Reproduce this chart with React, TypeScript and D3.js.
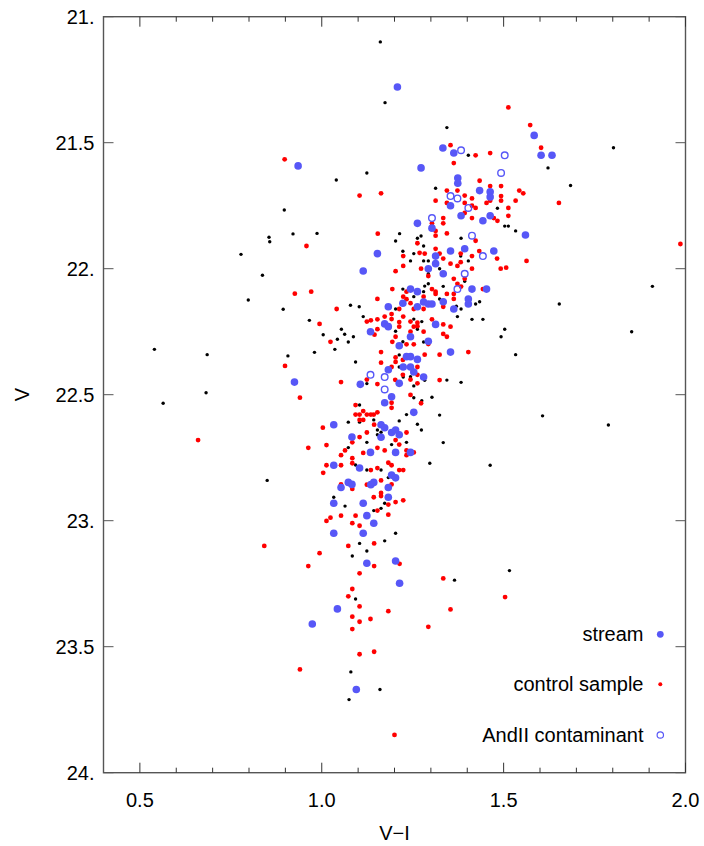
import * as d3 from "d3";

// colour-magnitude diagram: V against V-I
const xTickLabels = ["0.5", "1.0", "1.5", "2.0"];
const xTickValues = [0.5, 1.0, 1.5, 2.0];
const yTickLabels = ["21.", "21.5", "22.", "22.5", "23.", "23.5", "24."];
const yTickValues = [21, 21.5, 22, 22.5, 23, 23.5, 24];

const legendLabels = ["stream", "control sample", "AndII contaminant"];

// field stars (small black dots)
const field: [number, number][] = [
  [0.897, 21.767], [0.921, 21.862], [0.855, 21.875], [0.857, 21.893], [0.778, 21.943], [0.837, 22.026],
  [0.798, 22.124], [0.894, 22.161], [0.54, 22.32], [0.685, 22.341], [0.907, 22.346], [0.682, 22.492],
  [0.564, 22.534], [1.174, 21.341], [1.124, 21.62], [1.04, 21.648], [0.987, 21.86], [1.214, 21.861],
  [1.273, 21.87], [1.263, 21.879], [1.203, 21.89], [1.344, 21.44], [1.403, 21.55], [1.622, 21.6],
  [1.313, 21.681], [1.483, 21.76], [1.503, 21.831], [1.513, 21.831], [1.533, 21.85], [1.383, 21.879],
  [1.223, 21.931], [1.253, 21.94], [1.28, 21.91], [1.244, 21.969], [1.28, 21.969], [1.223, 22.081],
  [1.28, 22.091], [1.253, 22.111], [1.079, 22.145], [1.103, 22.151], [1.203, 22.16], [1.114, 22.19],
  [1.253, 22.2], [0.966, 22.205], [1.263, 22.24], [1.054, 22.24], [1.203, 22.248], [1.063, 22.26],
  [1.004, 22.262], [1.043, 22.28], [1.087, 22.27], [1.073, 22.291], [1.223, 22.29], [1.28, 22.291],
  [1.036, 22.32], [1.213, 22.342], [0.98, 22.332], [1.093, 22.37], [1.213, 22.39], [1.244, 22.429],
  [1.224, 22.43], [1.124, 22.456], [1.382, 21.95], [1.293, 21.969], [1.403, 21.969], [1.324, 22.0],
  [1.293, 22.02], [1.393, 22.05], [1.293, 22.06], [1.283, 22.069], [1.334, 22.07], [1.324, 22.12],
  [1.434, 22.131], [1.423, 22.14], [1.37, 22.149], [1.383, 22.16], [1.653, 22.14], [1.373, 22.19],
  [1.413, 22.201], [1.443, 22.201], [1.275, 22.21], [1.503, 22.24], [1.493, 22.27], [1.533, 22.341],
  [1.283, 22.443], [1.344, 22.442], [1.383, 22.451], [1.253, 22.512], [1.104, 22.541], [1.143, 22.6],
  [1.104, 22.609], [1.073, 22.609], [1.233, 22.579], [1.213, 22.604], [1.263, 22.617], [1.274, 22.64],
  [1.153, 22.64], [1.163, 22.649], [1.192, 22.698], [1.233, 22.689], [1.124, 22.689], [1.153, 22.659],
  [1.073, 22.71], [1.093, 22.779], [1.124, 22.799], [1.163, 22.799], [1.183, 22.829], [1.033, 22.907],
  [1.064, 22.942], [1.173, 22.931], [1.163, 22.951], [1.143, 22.96], [1.253, 22.465], [1.303, 22.51],
  [1.275, 22.524], [1.324, 22.581], [1.607, 22.584], [1.334, 22.69], [1.297, 22.772], [1.463, 22.78],
  [1.203, 23.05], [1.104, 23.09], [1.173, 23.08], [1.124, 23.12], [1.084, 23.14], [1.093, 23.311],
  [1.516, 23.198], [1.365, 23.236], [1.161, 21.1], [1.802, 21.52], [1.684, 21.67], [1.909, 22.07],
  [1.852, 22.25], [1.788, 22.62], [0.85, 22.84], [1.08, 23.6], [1.075, 23.71], [1.16, 23.67],
];

// control sample (red dots)
const control: [number, number][] = [
  [0.898, 21.566], [0.926, 22.099], [0.899, 22.386], [0.94, 22.512], [1.104, 21.71], [1.163, 21.701],
  [1.154, 21.861], [1.263, 21.899], [0.958, 21.91], [1.513, 21.36], [1.573, 21.43], [1.354, 21.51],
  [1.603, 21.52], [1.423, 21.55], [1.463, 21.541], [1.363, 21.581], [1.434, 21.651], [1.344, 21.69],
  [1.373, 21.69], [1.463, 21.672], [1.493, 21.672], [1.543, 21.69], [1.554, 21.701], [1.393, 21.71],
  [1.413, 21.721], [1.493, 21.712], [1.313, 21.73], [1.344, 21.739], [1.393, 21.739], [1.463, 21.73],
  [1.453, 21.739], [1.493, 21.73], [1.533, 21.73], [1.652, 21.739], [1.413, 21.75], [1.423, 21.759],
  [1.513, 21.759], [1.393, 21.779], [1.513, 21.79], [1.334, 21.799], [1.413, 21.799], [1.473, 21.799],
  [1.483, 21.81], [1.334, 21.82], [1.303, 21.82], [1.344, 21.86], [1.313, 21.85], [1.313, 21.869],
  [1.423, 21.889], [1.269, 21.937], [1.224, 21.95], [1.224, 21.989], [1.203, 22.01], [1.273, 22.0],
  [0.971, 22.091], [1.194, 22.081], [1.233, 22.091], [1.224, 22.111], [1.153, 22.12], [1.233, 22.121],
  [1.28, 22.111], [1.244, 22.137], [1.041, 22.16], [1.213, 22.16], [1.253, 22.16], [1.28, 22.16],
  [1.192, 22.18], [1.224, 22.19], [1.124, 22.21], [1.135, 22.205], [1.153, 22.201], [1.173, 22.19],
  [1.192, 22.2], [1.213, 22.212], [1.244, 22.21], [1.263, 22.214], [0.994, 22.219], [1.153, 22.24],
  [1.213, 22.23], [1.263, 22.228], [1.253, 22.23], [1.244, 22.25], [1.28, 22.25], [1.145, 22.262],
  [1.203, 22.27], [1.024, 22.29], [1.194, 22.29], [1.233, 22.3], [1.253, 22.3], [1.163, 22.331],
  [1.203, 22.352], [1.223, 22.362], [1.163, 22.373], [1.203, 22.37], [1.192, 22.39], [1.263, 22.39],
  [1.223, 22.421], [1.263, 22.421], [1.124, 22.44], [1.202, 22.441], [1.244, 22.44], [1.053, 22.45],
  [1.153, 22.458], [1.263, 22.455], [1.313, 21.921], [1.433, 21.93], [1.283, 21.94], [1.324, 21.94],
  [1.334, 21.96], [1.382, 21.94], [1.413, 21.95], [1.482, 21.96], [1.563, 21.969], [1.354, 21.98],
  [1.382, 21.974], [1.373, 21.989], [1.413, 22.0], [1.492, 22.0], [1.507, 21.996], [1.293, 22.029],
  [1.363, 22.04], [1.393, 22.04], [1.373, 22.06], [1.383, 22.071], [1.443, 22.081], [1.303, 22.081],
  [1.313, 22.091], [1.313, 22.1], [1.344, 22.1], [1.363, 22.1], [1.363, 22.12], [1.334, 22.151],
  [1.303, 22.201], [1.334, 22.221], [1.354, 22.23], [1.334, 22.259], [1.344, 22.27], [1.293, 22.299],
  [1.283, 22.341], [1.324, 22.341], [1.403, 22.331], [1.283, 22.429], [1.324, 22.442], [1.192, 22.532],
  [1.192, 22.552], [1.244, 22.501], [1.273, 22.534], [1.093, 22.541], [1.114, 22.565], [1.093, 22.579],
  [1.104, 22.579], [1.124, 22.579], [1.135, 22.579], [1.143, 22.579], [1.153, 22.57], [1.104, 22.6],
  [1.114, 22.6], [1.003, 22.631], [1.144, 22.619], [1.124, 22.65], [1.233, 22.65], [1.203, 22.68],
  [1.213, 22.698], [1.104, 22.668], [1.084, 22.689], [0.963, 22.711], [1.013, 22.7], [1.064, 22.721],
  [1.053, 22.74], [1.114, 22.731], [1.153, 22.711], [1.173, 22.721], [1.233, 22.721], [1.233, 22.74],
  [1.253, 22.729], [1.084, 22.752], [1.084, 22.772], [1.183, 22.77], [1.192, 22.78], [1.053, 22.78],
  [1.013, 22.78], [1.004, 22.81], [1.135, 22.799], [1.153, 22.791], [1.213, 22.799], [1.224, 22.799],
  [1.053, 22.856], [1.084, 22.874], [1.124, 22.857], [1.163, 22.84], [1.192, 22.856], [1.163, 22.89],
  [1.163, 22.902], [1.143, 22.907], [1.203, 22.926], [1.224, 22.919], [1.183, 22.936], [1.153, 22.96],
  [1.093, 22.98], [1.053, 22.98], [1.183, 22.976], [1.024, 22.988], [1.013, 23.001], [1.084, 23.01],
  [1.104, 23.02], [1.073, 23.1], [1.144, 23.09], [0.994, 23.129], [0.963, 23.18], [1.144, 23.18],
  [1.214, 23.171], [1.104, 23.209], [1.084, 23.271], [1.073, 23.3], [1.104, 23.34], [1.183, 23.359],
  [1.084, 23.381], [1.134, 23.39], [1.104, 23.401], [1.084, 23.43], [1.144, 23.52], [1.104, 23.53],
  [1.334, 23.229], [1.504, 23.303], [1.354, 23.352], [1.293, 23.421], [1.986, 21.902], [0.66, 22.68],
  [0.842, 23.1], [0.94, 23.59], [1.2, 23.85],
];

// stream stars (filled blue)
const stream: [number, number][] = [
  [0.935, 21.592], [0.925, 22.45], [1.273, 21.6], [1.263, 21.82], [1.584, 21.471], [1.333, 21.521],
  [1.363, 21.541], [1.603, 21.55], [1.633, 21.55], [1.374, 21.64], [1.374, 21.661], [1.434, 21.69],
  [1.463, 21.695], [1.463, 21.715], [1.354, 21.75], [1.383, 21.79], [1.463, 21.79], [1.443, 21.81],
  [1.303, 21.839], [1.56, 21.866], [1.153, 21.94], [1.114, 22.009], [1.244, 22.081], [1.263, 22.091],
  [1.223, 22.137], [1.263, 22.151], [1.28, 22.132], [1.183, 22.151], [1.173, 22.219], [1.183, 22.23],
  [1.134, 22.25], [1.244, 22.27], [1.213, 22.306], [1.233, 22.349], [1.244, 22.349], [1.263, 22.36],
  [1.224, 22.39], [1.244, 22.39], [1.183, 22.401], [1.253, 22.41], [1.28, 22.43], [1.213, 22.455],
  [1.106, 22.459], [1.354, 21.93], [1.393, 21.921], [1.473, 21.93], [1.313, 21.95], [1.313, 21.98],
  [1.293, 22.0], [1.334, 22.02], [1.413, 22.081], [1.453, 22.081], [1.403, 22.12], [1.334, 22.131],
  [1.293, 22.14], [1.303, 22.14], [1.403, 22.14], [1.363, 22.16], [1.313, 22.221], [1.293, 22.288],
  [1.354, 22.331], [1.192, 22.508], [1.173, 22.532], [1.253, 22.57], [1.033, 22.619], [1.163, 22.619],
  [1.173, 22.631], [1.192, 22.65], [1.203, 22.64], [1.213, 22.659], [1.083, 22.668], [1.163, 22.669],
  [1.134, 22.729], [1.203, 22.729], [1.244, 22.729], [1.033, 22.78], [1.104, 22.791], [1.192, 22.819],
  [1.203, 22.83], [1.073, 22.848], [1.053, 22.868], [1.083, 22.856], [1.135, 22.857], [1.143, 22.848],
  [1.183, 22.868], [1.183, 22.907], [1.033, 22.931], [1.114, 22.931], [1.124, 22.98], [1.143, 23.01],
  [1.033, 23.05], [1.114, 23.05], [1.124, 23.169], [1.203, 23.16], [1.214, 23.248], [1.043, 23.35],
  [0.974, 23.41], [1.208, 21.279], [1.095, 23.67],
];

// AndII contaminants (open blue circles)
const andii: [number, number][] = [
  [1.383, 21.53], [1.503, 21.55], [1.493, 21.62], [1.354, 21.712], [1.373, 21.721], [1.403, 21.759],
  [1.303, 21.799], [1.413, 21.869], [1.443, 21.95], [1.393, 22.02], [1.373, 22.081], [1.134, 22.421],
  [1.173, 22.43], [1.173, 22.479],
];

const W = 704;
const H = 846;
const left = 103.5;
const right = 685.5;
const top = 16.7;
const bottom = 772.7;
const blue = "#5757f7";
const font = "'Liberation Sans', Arial, Helvetica, sans-serif";

export default function App() {
  const x = d3.scaleLinear().domain([0.4, 2.0]).range([left, right]);
  const y = d3.scaleLinear().domain([21, 24]).range([top, bottom]);

  const minor = d3.range(5, 20).map((d) => d / 10).filter((d) => !xTickValues.includes(d));

  return (
    <svg
      width={W}
      height={H}
      style={{ position: "absolute", left: 0, top: 0, background: "#fff" }}
      fontFamily={font}
    >
      {/* points */}
      {field.map((d, i) => (
        <circle key={"f" + i} cx={x(d[0])} cy={y(d[1])} r={1.7} fill="#000" />
      ))}
      {control.map((d, i) => (
        <circle key={"c" + i} cx={x(d[0])} cy={y(d[1])} r={2.4} fill="#ff0000" />
      ))}
      {stream.map((d, i) => (
        <circle key={"s" + i} cx={x(d[0])} cy={y(d[1])} r={3.8} fill={blue} />
      ))}
      {andii.map((d, i) => (
        <circle key={"a" + i} cx={x(d[0])} cy={y(d[1])} r={3.3} fill="none" stroke={blue} strokeWidth={1.4} />
      ))}

      {/* frame */}
      <rect x={left} y={top} width={right - left} height={bottom - top} fill="none" stroke="#555" strokeWidth={1.4} />

      {/* x ticks, bottom and top */}
      {xTickValues.map((d) => (
        <g key={"xt" + d} stroke="#333" strokeWidth={1}>
          <line x1={x(d)} x2={x(d)} y1={bottom} y2={bottom - 10} />
          <line x1={x(d)} x2={x(d)} y1={top} y2={top + 10} />
        </g>
      ))}
      {minor.map((d) => (
        <g key={"xm" + d} stroke="#333" strokeWidth={1}>
          <line x1={x(d)} x2={x(d)} y1={bottom} y2={bottom - 5} />
          <line x1={x(d)} x2={x(d)} y1={top} y2={top + 5} />
        </g>
      ))}
      {xTickValues.map((d, i) => (
        <text key={"xl" + d} x={x(d)} y={807} textAnchor="middle" fontSize={20} fill="#000">
          {xTickLabels[i]}
        </text>
      ))}

      {/* y ticks, left and right */}
      {yTickValues.map((d) => (
        <g key={"yt" + d} stroke="#555" strokeWidth={1}>
          <line x1={left} x2={left + 10} y1={y(d)} y2={y(d)} />
          <line x1={right} x2={right - 10} y1={y(d)} y2={y(d)} />
        </g>
      ))}
      {yTickValues.map((d, i) => (
        <text key={"yl" + d} x={94.5} y={y(d)} dy="0.35em" textAnchor="end" fontSize={20} fill="#000">
          {yTickLabels[i]}
        </text>
      ))}

      {/* axis titles */}
      <text x={(left + right) / 2} y={840} textAnchor="middle" fontSize={20} fill="#000">
        V−I
      </text>
      <text transform={`translate(29,${(top + bottom) / 2}) rotate(-90)`} textAnchor="middle" fontSize={20} fill="#000">
        V
      </text>

      {/* legend */}
      <g fontSize={20} fill="#000">
        <text x={643.5} y={641} textAnchor="end">{legendLabels[0]}</text>
        <circle cx={660.3} cy={634.3} r={3.4} fill={blue} />
        <text x={643.5} y={691} textAnchor="end">{legendLabels[1]}</text>
        <circle cx={660.3} cy={684.3} r={2} fill="#ff0000" />
        <text x={643.5} y={742} textAnchor="end">{legendLabels[2]}</text>
        <circle cx={660.3} cy={735} r={3.2} fill="none" stroke={blue} strokeWidth={1.2} />
      </g>
    </svg>
  );
}
